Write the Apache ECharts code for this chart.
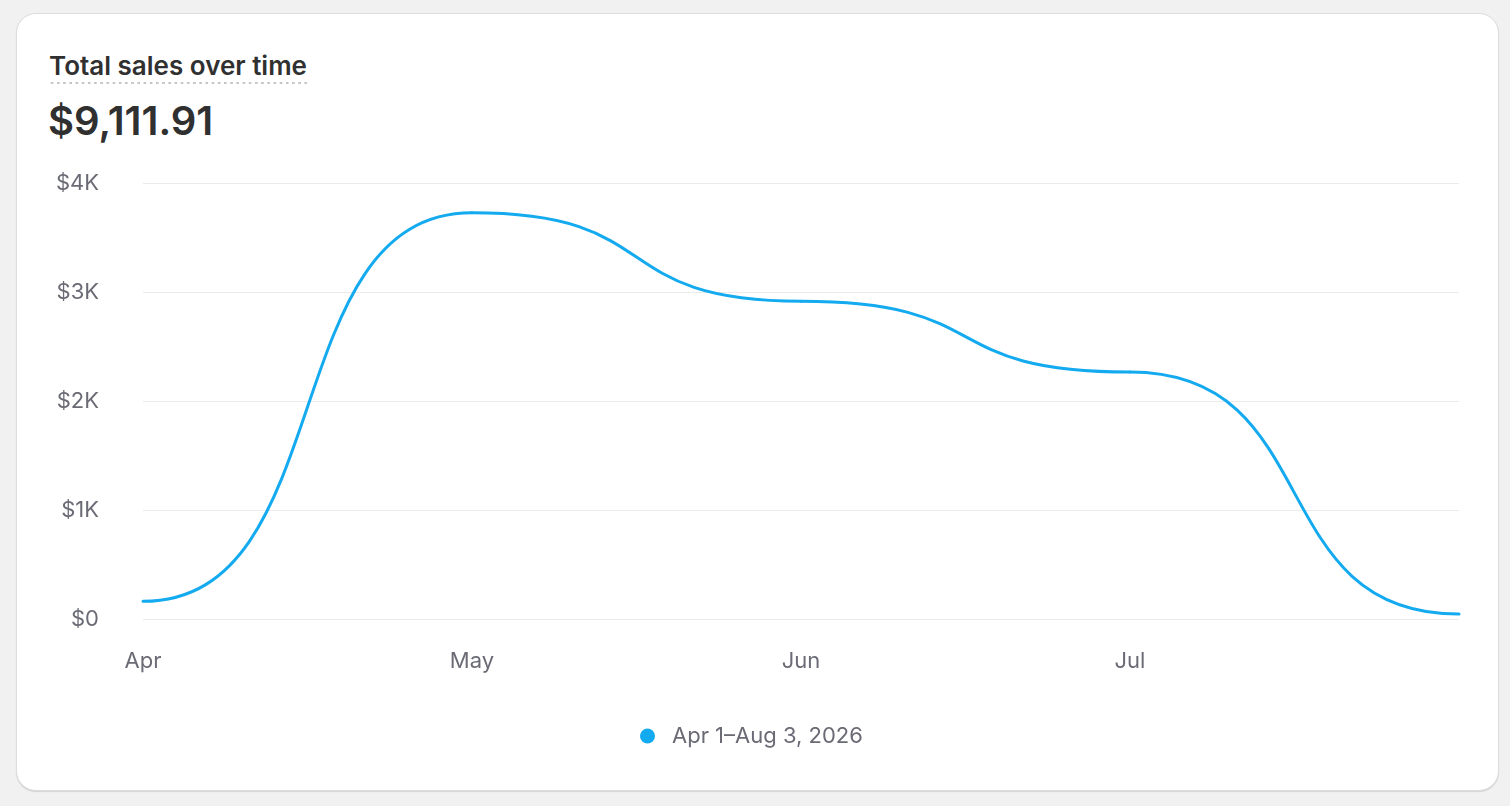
<!DOCTYPE html>
<html>
<head>
<meta charset="utf-8">
<script src="https://cdn.jsdelivr.net/npm/echarts@6/dist/echarts.min.js"></script>
<style>
  html, body { margin: 0; padding: 0; width: 1510px; height: 806px; background: #f1f1f1; overflow: hidden; font-family: Inter, "Noto Sans", sans-serif; }
  #card { position: absolute; left: 16px; top: 13px; width: 1481px; height: 776px; background: #fff; border: 1px solid #dcdcdc; border-radius: 20px; box-shadow: 0 1px 1px rgba(0,0,0,0.12); }
  #title { position: absolute; left: 49px; top: 50px; font-size: 26px; font-weight: 600; color: #303030; line-height: 32px; padding-bottom: 3px;
           background-image: radial-gradient(circle, #c6c6ca 1.1px, transparent 1.5px); background-size: 6.2px 4px; background-repeat: repeat-x; background-position: 0 100%; }
  #total { position: absolute; left: 48px; top: 97px; font-size: 40px; font-weight: 600; color: #303030; line-height: 48px; }
  #chart { position: absolute; left: 0; top: 0; width: 1510px; height: 806px; }
</style>
</head>
<body>
<div id="card"></div>
<div id="title">Total sales over time</div>
<div id="total">$9,111.91</div>
<div id="chart"></div>
<script>
const categories = ['Apr', 'May', 'Jun', 'Jul', 'Aug'];
const salesValues = [162, 3726, 2915, 2265, 45];
const yTicks = [0, 1000, 2000, 3000, 4000];
const seriesName = 'Apr 1\u2013Aug 3, 2026';

const LINE_COLOR = '#14aaef';
const CURVE_RATIO = 0.6;

const chart = echarts.init(document.getElementById('chart'), null, { renderer: 'canvas' });
chart.setOption({
  animation: false,
  backgroundColor: 'transparent',
  grid: { left: 143, right: 51, top: 183, bottom: 187, containLabel: false },
  legend: {
    data: [seriesName],
    left: 635,
    top: 720,
    icon: 'circle',
    itemWidth: 15,
    itemHeight: 15,
    itemStyle: { color: LINE_COLOR },
    textStyle: { fontFamily: 'Inter', fontSize: 22, color: '#6b6b76', padding: [0, 0, 0, 12] }
  },
  xAxis: {
    type: 'category',
    data: categories,
    boundaryGap: false,
    axisLine: { show: false },
    axisTick: { show: false },
    axisLabel: {
      margin: 31,
      fontFamily: 'Inter',
      fontSize: 22,
      color: '#6b6b76',
      formatter: (v, i) => (i === categories.length - 1 ? '' : v)
    },
    splitLine: { show: false }
  },
  yAxis: {
    type: 'value',
    min: yTicks[0],
    max: yTicks[yTicks.length - 1],
    interval: 1000,
    axisLine: { show: false },
    axisTick: { show: false },
    axisLabel: {
      margin: 44,
      fontFamily: 'Inter',
      fontSize: 22,
      color: '#6b6b76',
      formatter: v => (v === 0 ? '$0' : '$' + (v / 1000) + 'K')
    },
    splitLine: { lineStyle: { color: '#ebebeb', width: 1 } }
  },
  series: [{
    name: seriesName,
    type: 'custom',
    coordinateSystem: 'cartesian2d',
    data: salesValues.map((v, i) => [i, v]),
    encode: { x: 0, y: 1 },
    itemStyle: { color: LINE_COLOR },
    renderItem: (params, api) => {
      const i = params.dataIndex;
      if (i >= salesValues.length - 1) return { type: 'group', children: [] };
      const p0 = api.coord([i, api.value(1)]);
      const p1 = api.coord([i + 1, salesValues[i + 1]]);
      const d = (p1[0] - p0[0]) * CURVE_RATIO;
      return {
        type: 'bezierCurve',
        shape: {
          x1: p0[0], y1: p0[1],
          x2: p1[0], y2: p1[1],
          cpx1: p0[0] + d, cpy1: p0[1],
          cpx2: p1[0] - d, cpy2: p1[1]
        },
        style: { stroke: LINE_COLOR, lineWidth: 3, fill: null, lineCap: 'round' }
      };
    }
  }]
});
</script>
</body>
</html>
